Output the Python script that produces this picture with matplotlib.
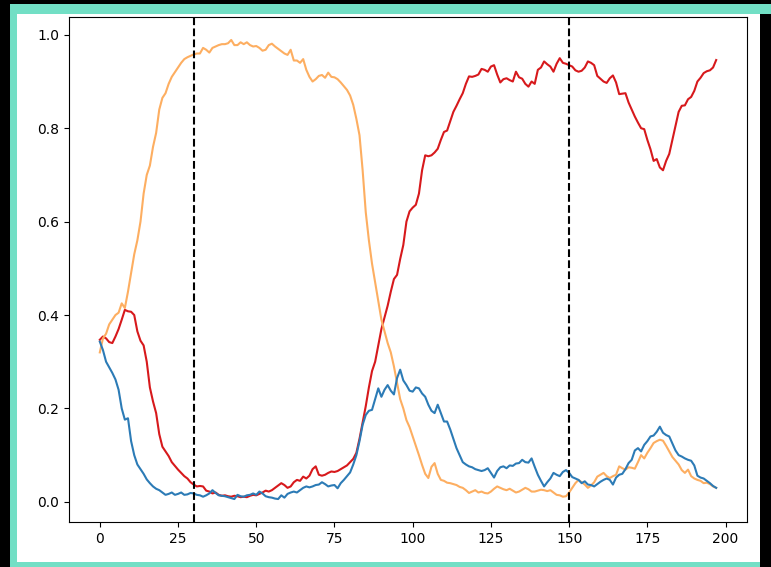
import numpy as np
import matplotlib
matplotlib.use("Agg")
import matplotlib.pyplot as plt
from matplotlib.patches import Rectangle

# per-step share of the three states
red_vals = [0.347, 0.354, 0.35, 0.342, 0.34, 0.354, 0.37, 0.39, 0.411, 0.408,
            0.407, 0.4, 0.365, 0.345, 0.335, 0.3, 0.245, 0.215, 0.19, 0.145,
            0.118, 0.108, 0.098, 0.085, 0.077, 0.069, 0.062, 0.055, 0.05, 0.042,
            0.037, 0.033, 0.034, 0.033, 0.024, 0.022, 0.018, 0.02, 0.015, 0.013,
            0.014, 0.012, 0.011, 0.013, 0.012, 0.01, 0.011, 0.01, 0.013, 0.015,
            0.014, 0.017, 0.02, 0.024, 0.022, 0.025, 0.03, 0.035, 0.04, 0.036,
            0.03, 0.033, 0.042, 0.047, 0.045, 0.054, 0.05, 0.056, 0.07, 0.076,
            0.058, 0.056, 0.058, 0.062, 0.065, 0.064, 0.066, 0.07, 0.074, 0.078,
            0.085, 0.092, 0.105, 0.135, 0.17, 0.205, 0.245, 0.28, 0.3, 0.335,
            0.37, 0.395, 0.42, 0.45, 0.477, 0.486, 0.52, 0.55, 0.6, 0.622,
            0.63, 0.636, 0.66, 0.71, 0.742, 0.74, 0.742, 0.748, 0.756, 0.775,
            0.792, 0.795, 0.815, 0.835, 0.848, 0.862, 0.875, 0.895, 0.911, 0.91,
            0.912, 0.915, 0.927, 0.925, 0.921, 0.932, 0.935, 0.915, 0.898, 0.905,
            0.907, 0.903, 0.9, 0.921, 0.909, 0.906, 0.895, 0.889, 0.9, 0.895,
            0.925, 0.93, 0.943, 0.937, 0.932, 0.921, 0.938, 0.95, 0.94, 0.938,
            0.935, 0.932, 0.924, 0.921, 0.923, 0.93, 0.943, 0.94, 0.935, 0.912,
            0.906, 0.9, 0.897, 0.907, 0.913, 0.898, 0.873, 0.874, 0.875, 0.855,
            0.84, 0.825, 0.812, 0.8, 0.798, 0.775, 0.755, 0.73, 0.734, 0.716,
            0.71, 0.73, 0.745, 0.775, 0.805, 0.835, 0.848, 0.849, 0.862, 0.867,
            0.88, 0.9, 0.908, 0.918, 0.922, 0.924, 0.93, 0.946]

orange_vals = [0.32, 0.35, 0.36, 0.38, 0.39, 0.4, 0.405, 0.425, 0.415, 0.45,
               0.49, 0.53, 0.56, 0.6, 0.66, 0.7, 0.72, 0.76, 0.79, 0.84,
               0.865, 0.875, 0.895, 0.91, 0.92, 0.93, 0.94, 0.948, 0.952, 0.955,
               0.958, 0.96, 0.96, 0.972, 0.968, 0.962, 0.972, 0.975, 0.978, 0.98,
               0.98, 0.982, 0.989, 0.978, 0.978, 0.984, 0.98, 0.984, 0.978, 0.975,
               0.976, 0.972, 0.966, 0.968, 0.978, 0.981, 0.975, 0.97, 0.965, 0.96,
               0.957, 0.968, 0.945, 0.945, 0.94, 0.948, 0.925, 0.91, 0.9, 0.905,
               0.912, 0.914, 0.908, 0.919, 0.91, 0.909, 0.905, 0.898, 0.89, 0.882,
               0.87, 0.85, 0.82, 0.785, 0.71, 0.62, 0.56, 0.51, 0.47, 0.43,
               0.39, 0.365, 0.34, 0.32, 0.29, 0.255, 0.22, 0.2, 0.175, 0.16,
               0.14, 0.12, 0.1, 0.079, 0.06, 0.051, 0.075, 0.083, 0.06, 0.047,
               0.045, 0.041, 0.04, 0.038, 0.036, 0.032, 0.03, 0.025, 0.019, 0.022,
               0.025, 0.02, 0.022, 0.019, 0.018, 0.022, 0.028, 0.033, 0.03, 0.027,
               0.025, 0.028, 0.024, 0.02, 0.022, 0.026, 0.03, 0.027, 0.022, 0.022,
               0.024, 0.026, 0.025, 0.023, 0.025, 0.02, 0.015, 0.014, 0.011, 0.012,
               0.02, 0.03, 0.04, 0.047, 0.042, 0.037, 0.03, 0.035, 0.042, 0.054,
               0.058, 0.062, 0.055, 0.051, 0.055, 0.058, 0.076, 0.072, 0.069, 0.074,
               0.073, 0.071, 0.085, 0.1, 0.093, 0.105, 0.115, 0.126, 0.13, 0.133,
               0.131, 0.12, 0.108, 0.096, 0.088, 0.08, 0.068, 0.062, 0.069, 0.055,
               0.05, 0.047, 0.045, 0.04, 0.041, 0.038, 0.033, 0.03]

blue_vals = [0.343, 0.325, 0.3, 0.288, 0.276, 0.262, 0.24, 0.2, 0.176, 0.179,
             0.13, 0.1, 0.08, 0.07, 0.06, 0.048, 0.04, 0.033, 0.028, 0.025,
             0.02, 0.015, 0.017, 0.02, 0.015, 0.017, 0.02, 0.015, 0.016, 0.019,
             0.018, 0.015, 0.014, 0.011, 0.014, 0.018, 0.025, 0.019, 0.014, 0.013,
             0.012, 0.01, 0.008, 0.006, 0.015, 0.012, 0.011, 0.014, 0.015, 0.018,
             0.015, 0.022, 0.018, 0.012, 0.01, 0.009, 0.007, 0.006, 0.014, 0.009,
             0.017, 0.02, 0.022, 0.02, 0.025, 0.03, 0.033, 0.031, 0.033, 0.036,
             0.037, 0.042, 0.038, 0.033, 0.035, 0.036, 0.029, 0.04, 0.047, 0.055,
             0.063, 0.08, 0.1, 0.13, 0.165, 0.186, 0.195, 0.197, 0.22, 0.243,
             0.225, 0.24, 0.25, 0.238, 0.23, 0.265, 0.283, 0.26, 0.25, 0.238,
             0.236, 0.245, 0.243, 0.232, 0.225, 0.208, 0.195, 0.19, 0.208, 0.19,
             0.172, 0.172, 0.155, 0.135, 0.115, 0.1, 0.085, 0.08, 0.076, 0.074,
             0.07, 0.068, 0.066, 0.068, 0.072, 0.062, 0.052, 0.066, 0.074, 0.076,
             0.072, 0.078, 0.077, 0.082, 0.083, 0.09, 0.085, 0.084, 0.093, 0.075,
             0.058, 0.045, 0.033, 0.042, 0.05, 0.062, 0.058, 0.055, 0.064, 0.068,
             0.062, 0.053, 0.05, 0.047, 0.04, 0.044, 0.037, 0.036, 0.033, 0.038,
             0.043, 0.047, 0.05, 0.047, 0.037, 0.052, 0.058, 0.06, 0.07, 0.083,
             0.09, 0.11, 0.115, 0.108, 0.122, 0.13, 0.14, 0.142, 0.15, 0.161,
             0.148, 0.143, 0.14, 0.125, 0.11, 0.1, 0.097, 0.093, 0.09, 0.088,
             0.078, 0.056, 0.052, 0.05, 0.045, 0.04, 0.034, 0.03]

switch_steps = [30, 150]

steps = np.arange(len(red_vals))

fig = plt.figure(figsize=(7.71, 5.67), dpi=100, facecolor="black")
W, H = 771, 567

def px_rect(x0, y0, x1, y1, color):
    # rectangle given in pixel coords measured from the top-left corner
    fig.patches.append(Rectangle((x0 / W, 1 - y1 / H), (x1 - x0) / W, (y1 - y0) / H,
                                 transform=fig.transFigure, facecolor=color,
                                 edgecolor="none", zorder=-10))

px_rect(10, 4, 771, 567, "#72dfc5")
px_rect(760, 14, 771, 567, "black")
px_rect(17, 14, 760, 562, "white")

ax = fig.add_axes([69 / W, 45 / H, 678 / W, 505 / H])
ax.plot(steps, red_vals, color="#d7191c", lw=1.5)
ax.plot(steps, orange_vals, color="#fdae61", lw=1.5)
ax.plot(steps, blue_vals, color="#2c7bb6", lw=1.5)
for s in switch_steps:
    ax.axvline(s, color="black", linestyle="--", lw=1.5)

plt.savefig("out.png", dpi=100, facecolor=fig.get_facecolor())
